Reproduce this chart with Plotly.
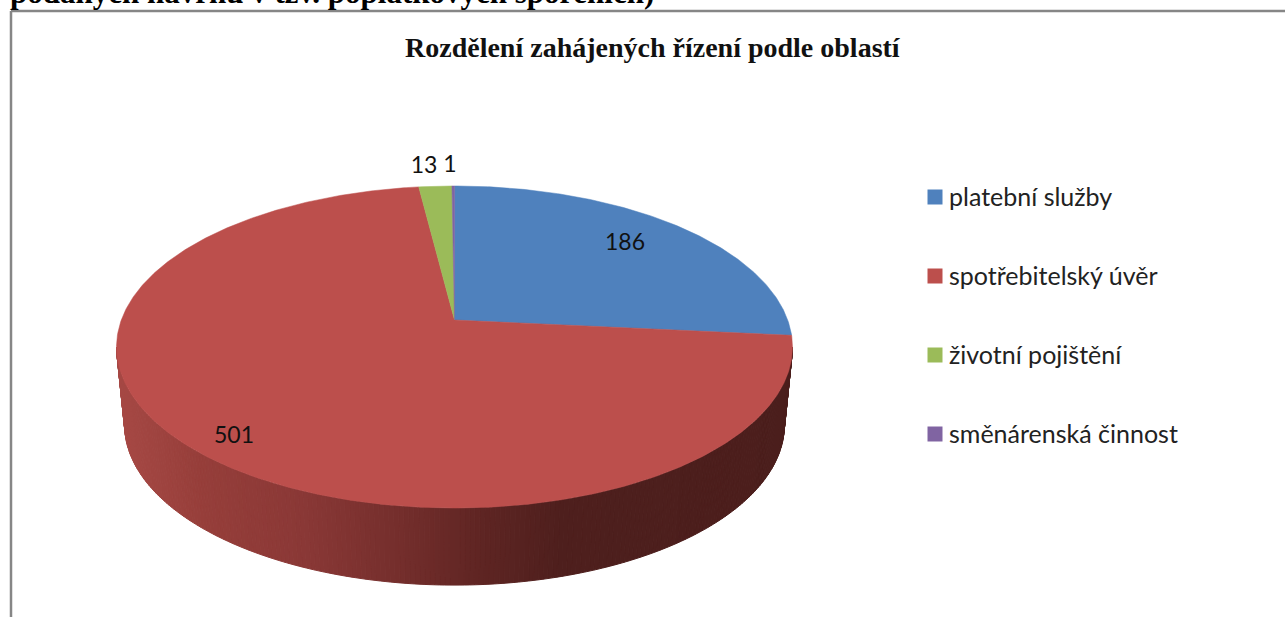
import numpy as np
import plotly.graph_objects as go

# ---- data ----
categories = ["platební služby", "spotřebitelský úvěr", "životní pojištění", "směnárenská činnost"]
values = [186, 501, 13, 1]
slice_colors = ["#4F81BD", "#BC4F4C", "#9BBB59", "#8064A2"]
value_labels = ["186", "501", "13", "1"]
chart_title = "Rozdělení zahájených řízení podle oblastí"
cut_heading = "podaných návrhů v tzv. poplatkových spořeních)"

# ---- geometry of the tilted disc, in page pixels ----
CX, CY = 454.5, 320.0
A, B, C = 156.5, 333.2, 0.1677   # vertical scale, horizontal scale, perspective
BOTTOM_DY, BOTTOM_SX, BOTTOM_SY = 78.0, 0.976, 0.995


def project(phi, sx=1.0, sy=1.0, dy=0.0):
    """phi: clockwise angle from the top of the disc, radians."""
    u, v = np.sin(phi), np.cos(phi)
    d = 1 + C * v
    return CX + sx * B * u / d, CY + dy - sy * A * v / d


def side_color(x):
    xs = [117, 200, 300, 400, 480, 560, 800]
    r = [166, 150, 138, 116, 95, 78, 75]
    g = [72, 62, 56, 46, 37, 31, 30]
    b = [68, 58, 54, 44, 35, 29, 28]
    return f"rgb({np.interp(x, xs, r):.0f},{np.interp(x, xs, g):.0f},{np.interp(x, xs, b):.0f})"


fig = go.Figure()

# side wall, drawn as thin strips for the shading
lim = np.arcsin(C)
edges = np.linspace(np.pi / 2 + lim, 3 * np.pi / 2 - lim, 221)
for p0, p1 in zip(edges[:-1], edges[1:]):
    ph = np.array([p0, p1])
    xt, yt = project(ph)
    xb, yb = project(ph, BOTTOM_SX, BOTTOM_SY, BOTTOM_DY)
    col = side_color(float(xt.mean()))
    fig.add_trace(go.Scatter(
        x=[xt[0], xt[1], xb[1], xb[0], xt[0]],
        y=[yt[0], yt[1], yb[1], yb[0], yt[0]],
        mode="lines", fill="toself", fillcolor=col,
        line=dict(color=col, width=1), hoverinfo="skip", showlegend=False))

# top face, one wedge per category
fractions = np.cumsum([0] + values) / sum(values)
for i, name in enumerate(categories):
    ph = 2 * np.pi * np.linspace(fractions[i], fractions[i + 1], max(3, int(values[i]) + 2))
    xs, ys = project(ph)
    fig.add_trace(go.Scatter(
        x=[CX, *xs, CX], y=[CY, *ys, CY],
        mode="lines", fill="toself", fillcolor=slice_colors[i],
        line=dict(color=slice_colors[i], width=0.5), name=name,
        hoverinfo="name", showlegend=False))

# value labels
label_x = [625, 234, 424, 450]
label_y = [244, 437, 167, 166]
fig.add_trace(go.Scatter(
    x=label_x, y=label_y, text=value_labels, mode="text",
    textposition="middle center",
    textfont=dict(family="Lato", size=23, color="#111111"),
    hoverinfo="skip", showlegend=False))

# legend
legend_y = [197, 276, 355, 434]
fig.add_trace(go.Scatter(
    x=[935] * 4, y=legend_y, mode="markers",
    marker=dict(symbol="square", size=15, color=slice_colors, line=dict(width=0)),
    hoverinfo="skip", showlegend=False))
for name, y in zip(categories, legend_y):
    fig.add_annotation(x=948, y=y - 1, text=name, showarrow=False, xanchor="left", yanchor="middle",
                       borderpad=0, font=dict(family="Lato", size=25, color="#222222"))

fig.add_annotation(x=652.5, y=47, text=f"<b>{chart_title}</b>", showarrow=False,
                   xanchor="center", yanchor="middle", borderpad=0,
                   font=dict(family="Liberation Serif", size=28, color="#111111"))
fig.add_annotation(x=9, y=11, text=f"<b>{cut_heading}</b>", showarrow=False,
                   xanchor="left", yanchor="bottom", borderpad=0,
                   font=dict(family="Liberation Serif", size=31, color="#000000"))

# surrounding frame
frame = dict(type="line", line=dict(color="#868686", width=2.5), layer="below")
fig.add_shape(x0=11, x1=11, y0=11, y1=617, **frame)
fig.add_shape(x0=11, x1=1285, y0=11, y1=11, **frame)

fig.update_xaxes(range=[0, 1285], visible=False, fixedrange=True)
fig.update_yaxes(range=[617, 0], visible=False, fixedrange=True)
fig.update_layout(width=1285, height=617, margin=dict(l=0, r=0, t=0, b=0),
                  plot_bgcolor="white", paper_bgcolor="white")

fig.write_html("out.html", config=dict(displayModeBar=False),
               post_script="document.body.style.margin='0';document.body.style.overflow='hidden';")
